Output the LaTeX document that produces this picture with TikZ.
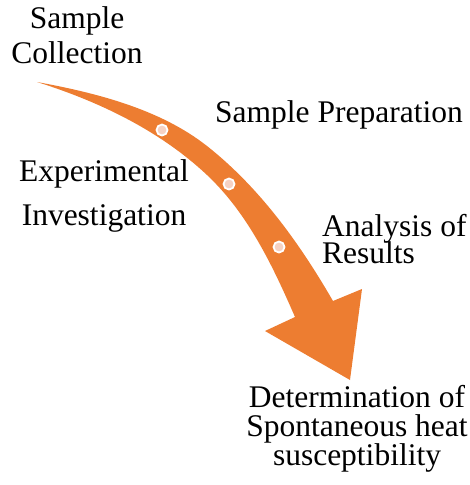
\documentclass[tikz,border=0pt]{standalone}
\usepackage{fontspec}
\setmainfont{Liberation Serif}
\definecolor{arrorange}{HTML}{ED7D31}
\definecolor{dotpink}{HTML}{F6D2C4}
\begin{document}
\begin{tikzpicture}[x=1pt,y=-1pt,
  lbl/.style={inner sep=0pt,anchor=north},
  dot/.style={circle,draw=white,line width=1.8pt,fill=dotpink,minimum size=11pt,inner sep=0pt}]
\useasboundingbox (0,0) rectangle (470,485);
% curved arrow
\coordinate (tail) at (37,82);
\coordinate (us) at (333,301);
\coordinate (ls) at (295,317);
\coordinate (um) at (207,146);
\coordinate (lm) at (207,175);
\fill[arrorange] (tail) .. controls (96,92.8) and (160,109) .. (um)
  .. controls (259.5,187.5) and (299.5,243) .. (us)
  -- (362,289) -- (350,380) -- (265,331) -- (ls)
  .. controls (272.6,265.5) and (247.8,213.4) .. (lm)
  .. controls (159.6,130.5) and (99,101.5) .. (tail) -- cycle;
\node[dot] (d1) at (162,130) {};
\node[dot] (d2) at (229,184) {};
\node[dot] (d3) at (279,247) {};
% labels
\node[lbl,align=center,font={\fontsize{31.5}{35}\selectfont\lineskiplimit=-100pt}] (c) at (77,6.5) {Sample\\Collection};
\node[lbl,anchor=north west,font={\fontsize{31.5}{35}\selectfont}] (p) at (215,100.5) {Sample Preparation};
\node[lbl,align=center,font={\fontsize{31.5}{44}\selectfont\lineskiplimit=-100pt}] (e) at (104,159.5) {Experimental\\Investigation};
\node[lbl,anchor=north west,align=left,font={\fontsize{31.5}{27}\selectfont\lineskiplimit=-100pt}] (a) at (322,214.5) {Analysis of\\Results};
\node[lbl,align=center,font={\fontsize{31.5}{29}\selectfont\lineskiplimit=-100pt}] (s) at (357,385.5) {Determination of\\Spontaneous heat\\susceptibility};
\end{tikzpicture}
\end{document}
